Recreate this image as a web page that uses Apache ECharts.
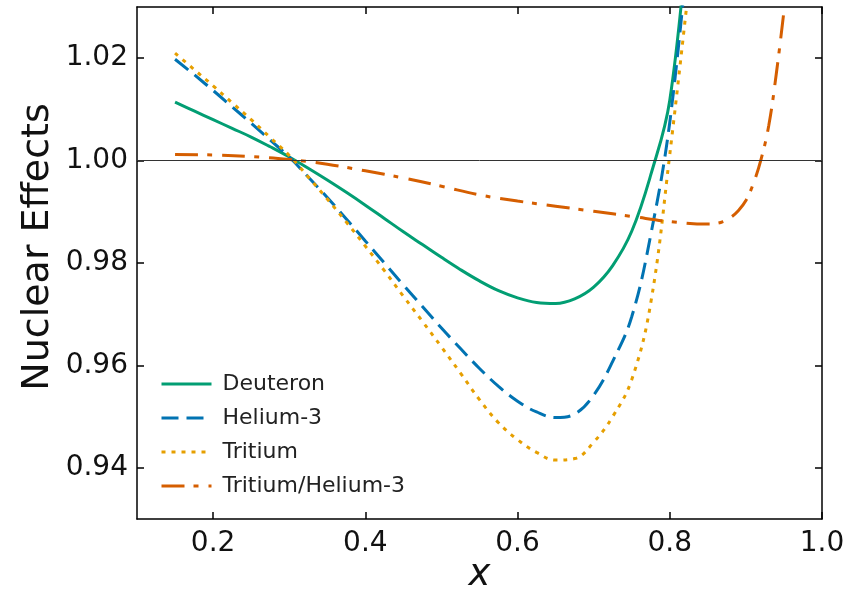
<!DOCTYPE html>
<html>
<head>
<meta charset="utf-8">
<script src="https://cdn.jsdelivr.net/npm/echarts@6/dist/echarts.min.js"></script>
<style>
  html, body { margin: 0; padding: 0; background: #fff; }
  #chart { width: 867px; height: 592px; }
</style>
</head>
<body>
<div id="chart"></div>
<script>
const xTicks = [0.2, 0.4, 0.6, 0.8, 1.0]
const yTicks = [0.94, 0.96, 0.98, 1.0, 1.02]

// shared x grid for the three nuclei
const xNuclei = [0.15, 0.175, 0.2, 0.225, 0.25, 0.275, 0.3, 0.325, 0.35, 0.375, 0.4, 0.425, 0.45, 0.475,
  0.5, 0.525, 0.55, 0.575, 0.6, 0.625, 0.65, 0.675, 0.7, 0.725, 0.75, 0.775, 0.8, 0.825]
const deuteron = [1.0114, 1.0097, 1.008, 1.0063, 1.0046, 1.0027, 1.0007, 0.9985, 0.9962, 0.9938, 0.9913, 0.9887, 0.9861, 0.9836,
  0.9811, 0.9787, 0.9765, 0.9746, 0.9732, 0.9723, 0.9721, 0.973, 0.9753, 0.9795, 0.9862, 0.9972, 1.0118, 1.047]
const helium3 = [1.0198, 1.0168, 1.0137, 1.0105, 1.0073, 1.004, 1.0007, 0.9968, 0.9928, 0.9886, 0.9843, 0.98, 0.9757, 0.9715,
  0.9673, 0.9633, 0.9594, 0.9559, 0.953, 0.9509, 0.9498, 0.9505, 0.9542, 0.9608, 0.9695, 0.9855, 1.0075, 1.043]
const tritium = [1.021, 1.0178, 1.0146, 1.0113, 1.008, 1.0045, 1.001, 0.9968, 0.9925, 0.988, 0.9833, 0.9785, 0.9735, 0.9686,
  0.9636, 0.9585, 0.9533, 0.9488, 0.9455, 0.943, 0.9415, 0.9418, 0.945, 0.95, 0.9572, 0.9722, 1.0012, 1.034]

const xRatio = [0.15, 0.2, 0.25, 0.3, 0.35, 0.4, 0.45, 0.5, 0.55, 0.6, 0.65, 0.7, 0.75, 0.8, 0.85,
  0.86, 0.87, 0.88, 0.89, 0.9, 0.91, 0.92, 0.93, 0.94, 0.95]
const ratio = [1.0012, 1.0011, 1.0008, 1.0002, 0.9993, 0.998, 0.9966, 0.995, 0.9933, 0.9921, 0.9911, 0.9901, 0.9891, 0.9881, 0.9876,
  0.9877, 0.9881, 0.9889, 0.9902, 0.9922, 0.9956, 1.0003, 1.0068, 1.017, 1.0292]

const font = 'DejaVu Sans'
const ink = '#111'

function pairs(xs, ys) {
  return xs.map((x, i) => [x, ys[i]])
}

function curve(name, xs, ys, color, type) {
  return {
    name,
    type: 'line',
    data: pairs(xs, ys),
    showSymbol: false,
    symbol: 'none',
    smooth: 0.4,
    clip: true,
    z: 3,
    lineStyle: { color, width: 3, type, cap: 'butt' },
    itemStyle: { color },
    emphasis: { disabled: true },
  }
}

const frameLine = { show: true, onZero: false, lineStyle: { color: '#000', width: 1.5 } }
const innerTick = (values) => ({
  show: true,
  inside: true,
  length: 7,
  customValues: values,
  lineStyle: { color: '#000', width: 1.5 },
})

const chart = echarts.init(document.getElementById('chart'), null, { renderer: 'canvas' })

chart.setOption({
  animation: false,
  grid: { left: 137, right: 45, top: 7, bottom: 73, outerBoundsMode: 'none', containLabel: false },
  legend: {
    data: ['Deuteron', 'Helium-3', 'Tritium', 'Tritium/Helium-3'],
    orient: 'vertical',
    left: 155,
    top: 368,
    itemWidth: 50,
    itemHeight: 14,
    itemGap: 12,
    itemStyle: { opacity: 0 },
    lineStyle: { width: 3 },
    textStyle: { fontFamily: font, fontSize: 22, color: '#222', padding: [0, 0, 0, 6] },
  },
  xAxis: [
    {
      type: 'value',
      min: 0.1,
      max: 1.0,
      position: 'bottom',
      axisLine: frameLine,
      axisTick: innerTick(xTicks),
      splitLine: { show: false },
      axisLabel: {
        customValues: xTicks,
        margin: 11,
        fontFamily: font,
        fontSize: 28,
        color: ink,
        formatter: (v) => v.toFixed(1),
      },
      name: 'x',
      nameLocation: 'middle',
      nameGap: 38,
      nameMoveOverlap: false,
      nameTextStyle: { fontFamily: font, fontStyle: 'italic', fontSize: 37, color: ink },
    },
    {
      type: 'value',
      min: 0.1,
      max: 1.0,
      position: 'top',
      axisLine: frameLine,
      axisTick: innerTick(xTicks),
      axisLabel: { show: false },
      splitLine: { show: false },
    },
  ],
  yAxis: [
    {
      type: 'value',
      min: 0.93,
      max: 1.03,
      position: 'left',
      axisLine: frameLine,
      axisTick: innerTick(yTicks),
      splitLine: { show: false },
      axisLabel: {
        customValues: yTicks,
        margin: 9,
        fontFamily: font,
        fontSize: 28,
        color: ink,
        formatter: (v) => v.toFixed(2),
      },
      name: 'Nuclear Effects',
      nameLocation: 'middle',
      nameGap: 80,
      nameMoveOverlap: false,
      nameTextStyle: { fontFamily: font, fontSize: 38, color: ink, padding: [0, 0, 0, 32] },
    },
    {
      type: 'value',
      min: 0.93,
      max: 1.03,
      position: 'right',
      axisLine: frameLine,
      axisTick: innerTick(yTicks),
      axisLabel: { show: false },
      splitLine: { show: false },
    },
  ],
  series: [
    // reference line at y = 1
    {
      name: 'ref',
      type: 'line',
      data: [],
      z: 1,
      markLine: {
        silent: true,
        symbol: 'none',
        label: { show: false },
        lineStyle: { color: '#333', width: 1, type: 'solid' },
        data: [{ yAxis: 1 }],
      },
    },
    curve('Deuteron', xNuclei, deuteron, '#029E73', 'solid'),
    curve('Helium-3', xNuclei, helium3, '#0173B2', [17, 8]),
    curve('Tritium', xNuclei, tritium, '#E69F00', [4, 6]),
    curve('Tritium/Helium-3', xRatio, ratio, '#D55E00', [23, 9, 5, 10]),
  ],
})
</script>
</body>
</html>
